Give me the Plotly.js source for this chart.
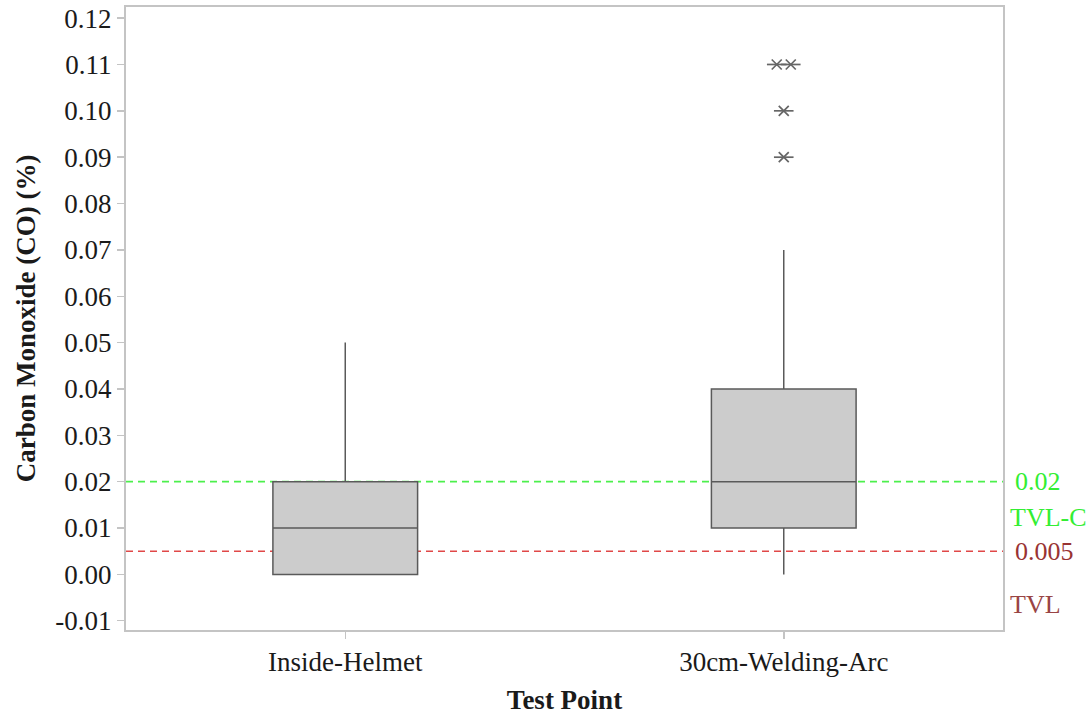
<!DOCTYPE html>
<html>
<head>
<meta charset="utf-8">
<script src="https://cdn.plot.ly/plotly-3.0.1.min.js"></script>
<style>html,body{margin:0;padding:0;background:#fff;}#chart{width:1089px;height:715px;}</style>
</head>
<body>
<div id="chart"></div>
<script>
// ---- data ----
const categories = ["Inside-Helmet", "30cm-Welding-Arc"];
const lowerWhisker = [0.00, 0.00];
const q1Values = [0.00, 0.01];
const medianValues = [0.01, 0.02];
const q3Values = [0.02, 0.04];
const upperWhisker = [0.05, 0.07];
const outliersHelmet = [];
const outliersArc = [0.09, 0.10, 0.11, 0.11];
const thresholdValues = [0.02, 0.005];
const thresholdLabels = ["0.02", "0.005"];
const thresholdNames = ["TVL-C", "TVL"];
const yTickValues = [-0.01, 0.00, 0.01, 0.02, 0.03, 0.04, 0.05, 0.06, 0.07, 0.08, 0.09, 0.10, 0.11, 0.12];

// ---- build ----
const positions = categories.map((c, i) => i);
const yTickText = yTickValues.map(v => v.toFixed(2));
const FONT = "'Liberation Serif', 'Times New Roman', serif";
const FS = 27;

const boxTrace = {
  type: "box",
  x: positions,
  q1: q1Values,
  median: medianValues,
  q3: q3Values,
  lowerfence: lowerWhisker,
  upperfence: upperWhisker,
  width: 0.33,
  whiskerwidth: 0,
  boxpoints: false,
  fillcolor: "#cccccc",
  line: { color: "#5a5a5a", width: 1.5 },
  hoverinfo: "skip",
  showlegend: false
};

// outliers: stack duplicate values side by side (Minitab style)
const allOutliers = [outliersHelmet, outliersArc];
const ox = [], oy = [];
const spacing = 0.032;
allOutliers.forEach((arr, ci) => {
  const counts = {};
  arr.forEach(v => { counts[v] = (counts[v] || 0) + 1; });
  Object.keys(counts).forEach(k => {
    const n = counts[k];
    for (let j = 0; j < n; j++) {
      ox.push(positions[ci] + (j - (n - 1) / 2) * spacing);
      oy.push(parseFloat(k));
    }
  });
});
const outX = { type: "scatter", mode: "markers", x: ox, y: oy, hoverinfo: "skip", showlegend: false,
  marker: { symbol: "x-thin-open", size: 10, color: "#666", line: { color: "#666", width: 1.7 } } };
const outH = { type: "scatter", mode: "markers", x: ox, y: oy, hoverinfo: "skip", showlegend: false,
  marker: { symbol: "line-ew-open", size: 14, color: "#666", line: { color: "#666", width: 1.7 } } };

const lineColors = ["#4cf04c", "#e04848"];
const labelColors = ["#33ee33", "#993333"];
const nameColors = ["#33ee33", "#994444"];
const nameShift = [-36, -53];

const shapes = thresholdValues.map((v, i) => ({
  type: "line", xref: "paper", x0: 0, x1: 1, yref: "y", y0: v, y1: v, layer: "below",
  line: { color: lineColors[i], width: 1.6, dash: "7px,5px" }
}));
const annotations = [];
thresholdValues.forEach((v, i) => {
  annotations.push({ xref: "paper", x: 1, xanchor: "left", xshift: 10, yref: "y", y: v, yanchor: "middle",
    text: thresholdLabels[i], showarrow: false, font: { family: FONT, size: FS - 1, color: labelColors[i] } });
  annotations.push({ xref: "paper", x: 1, xanchor: "left", xshift: 5, yref: "y", y: v, yanchor: "middle",
    yshift: nameShift[i], text: thresholdNames[i], showarrow: false, font: { family: FONT, size: FS - 1, color: nameColors[i] } });
});

const layout = {
  width: 1089, height: 715,
  margin: { l: 126, r: 86, t: 7, b: 85 },
  paper_bgcolor: "#fff", plot_bgcolor: "#fff",
  font: { family: FONT, size: FS, color: "#1a1a1a" },
  xaxis: {
    range: [-0.5, 1.5], tickvals: positions, ticktext: categories,
    showgrid: false, zeroline: false, showline: true, mirror: true,
    linecolor: "#c4c4c4", linewidth: 2,
    ticks: "outside", ticklen: 7, tickcolor: "#c4c4c4", tickwidth: 1.5,
    tickfont: { family: FONT, size: FS, color: "#1a1a1a" },
    title: { text: "<b>Test Point</b>", font: { family: FONT, size: FS, color: "#1a1a1a" }, standoff: 14 }
  },
  yaxis: {
    range: [-0.012, 0.1224], tickvals: yTickValues, ticktext: yTickText,
    showgrid: false, zeroline: false, showline: true, mirror: true,
    linecolor: "#c4c4c4", linewidth: 2,
    ticks: "outside", ticklen: 7, tickcolor: "#c4c4c4", tickwidth: 1.5,
    tickfont: { family: FONT, size: FS, color: "#1a1a1a" },
    title: { text: "<b>Carbon Monoxide (CO) (%)</b>", font: { family: FONT, size: FS, color: "#1a1a1a" }, standoff: 12 }
  },
  shapes: shapes,
  annotations: annotations
};

Plotly.newPlot("chart", [boxTrace, outH, outX], layout, { displayModeBar: false, staticPlot: true });
</script>
</body>
</html>
